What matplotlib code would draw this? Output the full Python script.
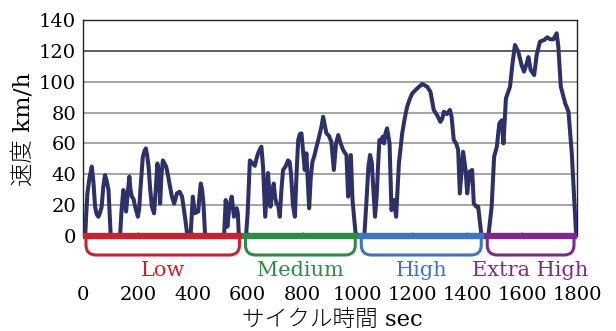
import matplotlib
matplotlib.use("Agg")
import matplotlib.pyplot as plt
from matplotlib.path import Path
from matplotlib.patches import PathPatch
import matplotlib.transforms as mtransforms

plt.rcParams['font.family'] = ['DejaVu Serif', 'Noto Sans CJK JP']

# ---- data ----
low_t = [0, 8, 12, 16, 24, 32, 38, 44, 50, 56, 62, 68, 74, 80, 86, 93, 101,
         135, 141, 147, 152, 157, 163, 169, 173, 178, 184, 190, 200, 205, 209, 214, 218, 224, 229, 234,
         239, 245, 251, 259, 265, 271, 278, 281, 286, 291, 297, 303, 309, 315, 324, 332, 337, 342, 352,
         361, 367, 373, 379, 383,
         392, 400, 408, 414, 420, 424, 429, 434, 439, 445,
         514, 520, 526, 534, 542, 550, 555, 560, 564, 568]
low_v = [0, 0, 15, 27.6, 38, 45, 35, 19, 14, 12.5, 15, 19, 32, 39.5, 36, 29.8, 0,
         0, 18, 29.8, 22, 15.8, 28, 38.5, 30, 25.5, 24, 19, 12.5, 18, 29.8, 42, 51.4, 55, 56.8, 52,
         45, 30, 19, 14.7, 30, 47, 38.5, 21, 40, 49, 47, 45, 40, 34, 25.5, 21, 24, 27.6, 28.7,
         25.5, 18, 10.4, 2, 0,
         0, 25.5, 14.7, 15.5, 15.8, 25, 34, 30, 21, 0,
         0, 23.3, 6, 20, 25.5, 12.5, 17, 18, 15, 0]

medium_t = [594, 600, 608, 618, 626, 632, 638, 644, 650, 656, 664, 674, 683, 689, 695, 700, 705, 711,
            717, 723, 729, 738, 747, 753, 758, 765, 772, 778, 784, 790, 796, 802, 808, 814, 824, 830,
            836, 843, 851, 857, 863, 869, 875, 881, 887, 896, 905, 914, 922, 930, 939, 948, 954, 960,
            966, 976, 982, 994]
medium_v = [0, 15, 49, 47, 45.5, 50, 53.6, 56, 57.9, 45, 12.5, 40.8, 19, 28, 34, 25, 21, 20,
            12.5, 30, 42.8, 45, 49, 48, 40, 20, 12.5, 40, 62, 66, 66.5, 55, 42.8, 53.6, 18, 38,
            48, 52, 57.9, 62, 66.5, 71, 77.3, 72, 66.5, 65, 61, 42.8, 60, 65.4, 60, 55.7, 54, 52.5,
            25.5, 52.5, 23.3, 0]

high_t = [1025, 1032, 1040, 1046, 1052, 1058, 1064, 1070, 1075, 1080, 1086, 1092, 1097, 1102, 1108,
          1117, 1124, 1133, 1141, 1151, 1163, 1172, 1181, 1190, 1200, 1218, 1236, 1254, 1266, 1278,
          1290, 1302, 1309, 1315, 1326, 1337, 1343, 1351, 1360, 1367, 1373, 1385, 1394, 1400, 1409,
          1418, 1424, 1433, 1440, 1452]
high_v = [0, 20, 45, 52.5, 48, 30, 12.5, 25.5, 45, 62.2, 61, 64.4, 60, 66.5, 69.8,
          60, 16.8, 23.3, 12.5, 47, 66.5, 76, 83.8, 88.5, 92.5, 95.7, 98.5, 96.8, 93.5, 81.7,
          78.4, 74, 76, 80.6, 79, 81.7, 77.3, 62.2, 60, 55.7, 27.6, 54.6, 42.8, 27.6, 41.7,
          42.8, 21, 19, 19, 0]

xhigh_t = [1477, 1489, 1498, 1508, 1517, 1526, 1532, 1541, 1556, 1565, 1574, 1586, 1598, 1607, 1617,
           1623, 1631, 1644, 1653, 1665, 1680, 1692, 1702, 1714, 1726, 1732, 1741, 1757, 1769, 1781,
           1797, 1800]
xhigh_v = [0, 19, 51.4, 57.9, 73, 75, 60, 89.2, 96.8, 112, 123.8, 119.5, 110.8, 106.5, 112,
           116, 107.6, 104.3, 117.3, 126, 127, 128.8, 127.5, 127.5, 131.4, 122.7, 96.8, 86, 80.6, 53.6,
           0, 0]

phase_names = ["Low", "Medium", "High", "Extra High"]
phase_bounds = [0, 581, 1003, 1462, 1800]
phase_colors = ["#c8242f", "#2e8a46", "#3f74bf", "#7e2a8c"]

x_ticks = [0, 200, 400, 600, 800, 1000, 1200, 1400, 1600, 1800]
y_ticks = [0, 20, 40, 60, 80, 100, 120, 140]

# ---- figure ----
W, H = 616, 331
fig = plt.figure(figsize=(W / 100, H / 100), dpi=100)
L, R, T, B = 83, 577, 20, 236
ax = fig.add_axes([L / W, (H - B) / H, (R - L) / W, (B - T) / H])

time_all = low_t + [575, 588] + medium_t + [1000, 1012] + high_t + [1460, 1470] + xhigh_t
speed_all = low_v + [0, 0] + medium_v + [0, 0] + high_v + [0, 0] + xhigh_v

ax.set_xlim(0, 1800)
ax.set_ylim(0, 140)

for yv in y_ticks[1:-1]:
    ax.axhline(yv, color="#333333" if yv == 120 else "#8c8c8c", lw=1.1, zorder=1)

ax.plot(time_all, speed_all, color="#2e3068", lw=2.9, zorder=3, solid_joinstyle="round")

for s in ["left", "right", "top"]:
    ax.spines[s].set_color("#222222")
    ax.spines[s].set_linewidth(1.0)
ax.spines["bottom"].set_visible(False)

ax.set_xticks(x_ticks)
ax.set_yticks(y_ticks)
ax.tick_params(axis="y", length=0, pad=5, labelsize=14)
ax.tick_params(axis="x", direction="in", length=3, width=0.8, color="#555555", pad=36, labelsize=14)

trans = mtransforms.blended_transform_factory(ax.transData, ax.transAxes)
px_x = (R - L) / 1800.0   # pixels per second
px_y = float(B - T)       # pixels per axes unit
depth = 19 / px_y
rad_x = 10 / px_x
rad_y = 10 / px_y
inset = 3 / px_x

for i, name in enumerate(phase_names):
    x0, x1 = phase_bounds[i], phase_bounds[i + 1]
    c = phase_colors[i]
    ax.plot([x0, x1], [0, 0], color=c, lw=4.6, solid_capstyle="butt", clip_on=False, zorder=4)
    a, b = x0 + inset, x1 - inset
    verts = [(a, 0), (a, -depth + rad_y), (a, -depth), (a + rad_x, -depth),
             (b - rad_x, -depth), (b, -depth), (b, -depth + rad_y), (b, 0)]
    codes = [Path.MOVETO, Path.LINETO, Path.CURVE3, Path.CURVE3,
             Path.LINETO, Path.CURVE3, Path.CURVE3, Path.LINETO]
    patch = PathPatch(Path(verts, codes), transform=trans, fill=False, edgecolor=c,
                      lw=2.2, clip_on=False, capstyle="round", joinstyle="round")
    ax.add_patch(patch)
    ax.text((x0 + x1) / 2, (B - 270) / px_y, name, transform=trans, color=c,
            ha="center", va="center", fontsize=15)

fig.text(332 / W, (H - 320) / H, "サイクル時間 sec", ha="center", va="center",
         fontsize=16.3, fontweight="light")
fig.text(24 / W, (H - 129) / H, "速度 km/h", ha="center", va="center", rotation=90,
         fontsize=16.8, fontweight="light")

fig.savefig("out.png", dpi=100)
